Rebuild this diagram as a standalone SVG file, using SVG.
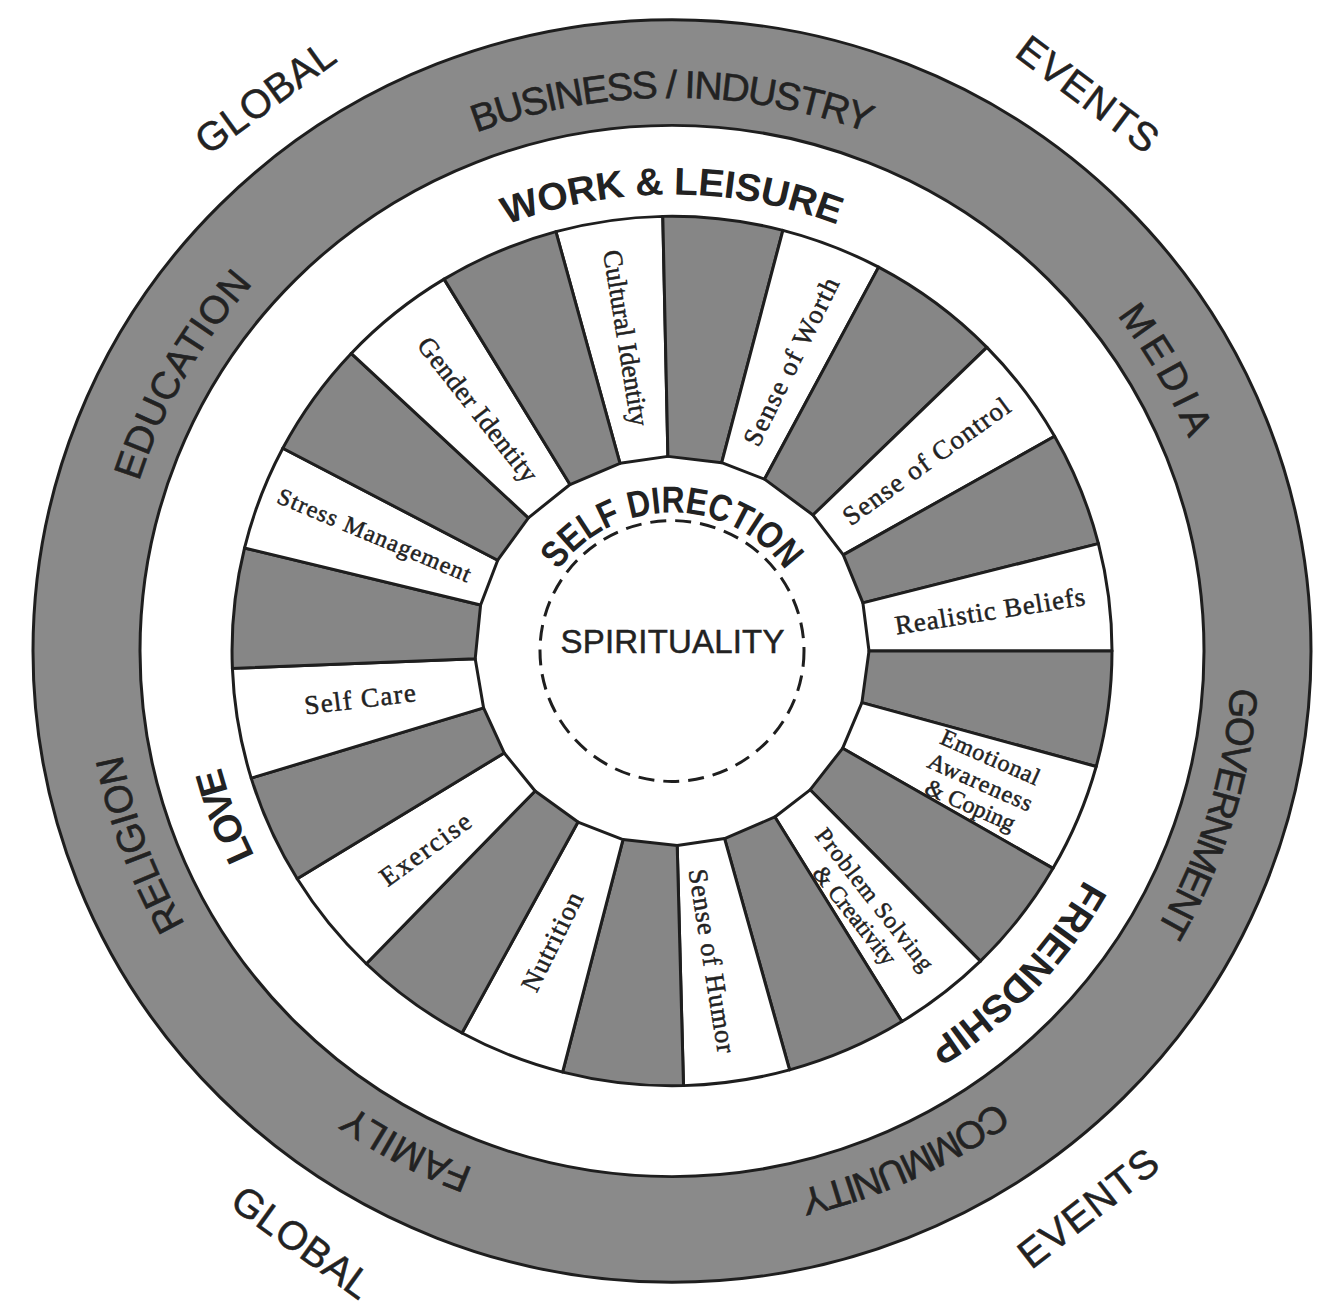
<svg xmlns="http://www.w3.org/2000/svg" width="1325" height="1305" viewBox="0 0 1325 1305">
<style>
.ring{fill:#8a8a8a;stroke:#1e1e1e;stroke-width:3}
.inner{fill:#fff;stroke:#1e1e1e;stroke-width:3}
.w{fill:#fff;stroke:#1e1e1e;stroke-width:3;stroke-linejoin:round}
.g{fill:#868686;stroke:#1e1e1e;stroke-width:3;stroke-linejoin:round}
.sans{font-family:"Liberation Sans",Arial,sans-serif;fill:#222}
.rt{font-size:39px;stroke:#222;stroke-width:0.6}
.wt{font-size:39px;font-weight:bold}
.corner{font-size:40px;stroke:#222;stroke-width:0.5}
.serif{font-family:"Liberation Serif","Times New Roman",serif;fill:#222;font-size:27px;stroke:#222;stroke-width:0.5}
.small{font-size:24px}
.dash{fill:none;stroke:#1e1e1e;stroke-width:3;stroke-dasharray:16 9}
</style>
<defs>
<path id="c560" d="M0,560 A560,560 0 1 1 0,-560 A560,560 0 1 1 0,560"/>
<path id="c462" d="M0,462 A462,462 0 1 1 0,-462 A462,462 0 1 1 0,462"/>
<path id="c473" d="M0,473 A473,473 0 1 1 0,-473 A473,473 0 1 1 0,473"/>
<path id="c466" d="M0,466 A466,466 0 1 1 0,-466 A466,466 0 1 1 0,466"/>
<path id="c140" d="M0,140 A140,140 0 1 1 0,-140 A140,140 0 1 1 0,140"/>
</defs>
<rect width="1325" height="1305" fill="#fff"/>
<g id="wheel" transform="translate(672 651) scale(1 0.988)">
  <g id="outer-ring">
    <circle r="639" class="ring"/>
    <circle r="532" class="inner"/>
  </g>
  <g id="ring-labels" text-anchor="middle">
    <g id="business-industry"><text class="sans rt"><textPath href="#c560" startOffset="50%" textLength="400">BUSINESS / INDUSTRY</textPath></text></g>
    <g id="education"><text class="sans rt"><textPath href="#c560" startOffset="33.25%" textLength="232">EDUCATION</textPath></text></g>
    <g id="religion"><text class="sans rt"><textPath href="#c560" startOffset="19.39%" textLength="184">RELIGION</textPath></text></g>
    <g id="family"><text class="sans rt"><textPath href="#c560" startOffset="7.72%" textLength="137">FAMILY</textPath></text></g>
    <g id="community"><text class="sans rt"><textPath href="#c560" startOffset="93.25%" textLength="219">COMMUNITY</textPath></text></g>
    <g id="government"><text class="sans rt"><textPath href="#c560" startOffset="79.72%" textLength="258">GOVERNMENT</textPath></text></g>
    <g id="media"><text class="sans rt"><textPath href="#c560" startOffset="66.67%" textLength="144">MEDIA</textPath></text></g>
    <g id="work-leisure"><text class="sans wt"><textPath href="#c462" startOffset="50%" textLength="338">WORK &amp; LEISURE</textPath></text></g>
    <g id="love"><text class="sans wt"><textPath href="#c466" startOffset="19.31%" textLength="96">LOVE</textPath></text></g>
    <g id="friendship"><text class="sans wt"><textPath href="#c473" startOffset="87.03%" textLength="232">FRIENDSHIP</textPath></text></g>
  </g>
  <g id="spokes" text-anchor="middle">
    <g id="cultural-identity"><path class="w" d="M-52.0,-190.0 L-116.1,-424.4 A440,440 0 0 1 -9.2,-439.9 L-4.1,-197.0 Z"/>
      <text class="serif" transform="translate(-47 -316.8) rotate(81)" y="8" textLength="180">Cultural Identity</text></g>
    <g id="gray-1"><path class="g" d="M-4.1,-197.0 L-9.2,-439.9 A440,440 0 0 1 110.9,-425.8 L49.7,-190.6 Z"/></g>
    <g id="sense-of-worth"><path class="w" d="M49.7,-190.6 L110.9,-425.8 A440,440 0 0 1 206.6,-388.5 L92.5,-173.9 Z"/>
      <text class="serif" transform="translate(120 -292.5) rotate(-64)" y="8" textLength="186">Sense of Worth</text></g>
    <g id="gray-2"><path class="g" d="M92.5,-173.9 L206.6,-388.5 A440,440 0 0 1 314.9,-307.3 L141.0,-137.6 Z"/></g>
    <g id="sense-of-control"><path class="w" d="M141.0,-137.6 L314.9,-307.3 A440,440 0 0 1 382.6,-217.3 L171.3,-97.3 Z"/>
      <text class="serif" transform="translate(255 -191.3) rotate(-36)" y="8" textLength="200">Sense of Control</text></g>
    <g id="gray-3"><path class="g" d="M171.3,-97.3 L382.6,-217.3 A440,440 0 0 1 426.4,-108.7 L190.9,-48.7 Z"/></g>
    <g id="realistic-beliefs"><path class="w" d="M190.9,-48.7 L426.4,-108.7 A440,440 0 0 1 440,0 L197,0 Z"/>
      <text class="serif" transform="translate(318 -39.5) rotate(-9)" y="8" textLength="192">Realistic Beliefs</text></g>
    <g id="gray-4"><path class="g" d="M197,0 L440,0 A440,440 0 0 1 424.2,116.9 L189.9,52.3 Z"/></g>
    <g id="emotional-awareness-coping"><path class="w" d="M189.9,52.3 L424.2,116.9 A440,440 0 0 1 381.0,220.0 L170.6,98.5 Z"/>
      <text class="serif small" transform="translate(318 108.3) rotate(24)" y="7" textLength="106">Emotional</text>
      <text class="serif small" transform="translate(308 133.6) rotate(24)" y="7" textLength="112">Awareness</text>
      <text class="serif small" transform="translate(298 156.9) rotate(24)" y="7" textLength="96">&amp; Coping</text></g>
    <g id="gray-5"><path class="g" d="M170.6,98.5 L381.0,220.0 A440,440 0 0 1 308.4,313.9 L138.1,140.5 Z"/></g>
    <g id="problem-solving-creativity"><path class="w" d="M138.1,140.5 L308.4,313.9 A440,440 0 0 1 229.9,375.1 L102.9,168.0 Z"/>
      <text class="serif small" transform="translate(202 252) rotate(52)" y="7" textLength="176">Problem Solving</text>
      <text class="serif small" transform="translate(182 268.2) rotate(52)" y="7" textLength="120">&amp; Creativity</text></g>
    <g id="gray-6"><path class="g" d="M102.9,168.0 L229.9,375.1 A440,440 0 0 1 117.6,424.0 L52.6,189.8 Z"/></g>
    <g id="sense-of-humor"><path class="w" d="M52.6,189.8 L117.6,424.0 A440,440 0 0 1 11.5,439.9 L5.2,196.9 Z"/>
      <text class="serif" transform="translate(39 313.8) rotate(81)" y="8" textLength="188">Sense of Humor</text></g>
    <g id="gray-7"><path class="g" d="M5.2,196.9 L11.5,439.9 A440,440 0 0 1 -109.4,426.2 L-49.0,190.8 Z"/></g>
    <g id="nutrition"><path class="w" d="M-49.0,190.8 L-109.4,426.2 A440,440 0 0 1 -210.0,386.7 L-94.0,173.1 Z"/>
      <text class="serif" transform="translate(-119 294.5) rotate(-64)" y="8" textLength="108">Nutrition</text></g>
    <g id="gray-8"><path class="g" d="M-94.0,173.1 L-210.0,386.7 A440,440 0 0 1 -305.7,316.5 L-136.9,141.7 Z"/></g>
    <g id="exercise"><path class="w" d="M-136.9,141.7 L-305.7,316.5 A440,440 0 0 1 -374.8,230.6 L-167.8,103.2 Z"/>
      <text class="serif" transform="translate(-246 201.4) rotate(-36)" y="8" textLength="106">Exercise</text></g>
    <g id="gray-9"><path class="g" d="M-167.8,103.2 L-374.8,230.6 A440,440 0 0 1 -420.8,128.7 L-188.4,57.6 Z"/></g>
    <g id="self-care"><path class="w" d="M-188.4,57.6 L-420.8,128.7 A440,440 0 0 1 -439.6,17.6 L-196.8,7.9 Z"/>
      <text class="serif" transform="translate(-312 49.6) rotate(-7)" y="8" textLength="112">Self Care</text></g>
    <g id="gray-10"><path class="g" d="M-196.8,7.9 L-439.6,17.6 A440,440 0 0 1 -427.5,-104.2 L-191.4,-46.6 Z"/></g>
    <g id="stress-management"><path class="w" d="M-191.4,-46.6 L-427.5,-104.2 A440,440 0 0 1 -389.2,-205.2 L-174.3,-91.9 Z"/>
      <text class="serif small" transform="translate(-298 -116.4) rotate(23)" y="7" textLength="208">Stress Management</text></g>
    <g id="gray-11"><path class="g" d="M-174.3,-91.9 L-389.2,-205.2 A440,440 0 0 1 -320.8,-301.2 L-143.6,-134.8 Z"/></g>
    <g id="gender-identity"><path class="w" d="M-143.6,-134.8 L-320.8,-301.2 A440,440 0 0 1 -227.9,-376.4 L-102.0,-168.5 Z"/>
      <text class="serif" transform="translate(-195 -243.9) rotate(52)" y="8" textLength="178">Gender Identity</text></g>
    <g id="gray-12"><path class="g" d="M-102.0,-168.5 L-227.9,-376.4 A440,440 0 0 1 -116.1,-424.4 L-52.0,-190.0 Z"/></g>
  </g>
  <g id="self-direction" text-anchor="middle">
    <text class="sans" font-size="38" font-weight="bold"><textPath href="#c140" startOffset="50%" textLength="265" lengthAdjust="spacingAndGlyphs">SELF DIRECTION</textPath></text>
  </g>
  <g id="spirituality">
    <circle r="132" class="dash"/>
    <text class="sans" font-size="33" x="0.5" y="2" text-anchor="middle" textLength="224" stroke="#222" stroke-width="0.5">SPIRITUALITY</text>
  </g>
</g>
<g id="corner-labels" text-anchor="middle">
  <text class="sans corner" transform="translate(265 97) rotate(-36)" y="14" textLength="162">GLOBAL</text>
  <text class="sans corner" transform="translate(1088 94) rotate(37)" y="14" textLength="166">EVENTS</text>
  <text class="sans corner" transform="translate(302 1242) rotate(36)" y="14" textLength="162">GLOBAL</text>
  <text class="sans corner" transform="translate(1088 1208) rotate(-38)" y="14" textLength="166">EVENTS</text>
</g>
</svg>
